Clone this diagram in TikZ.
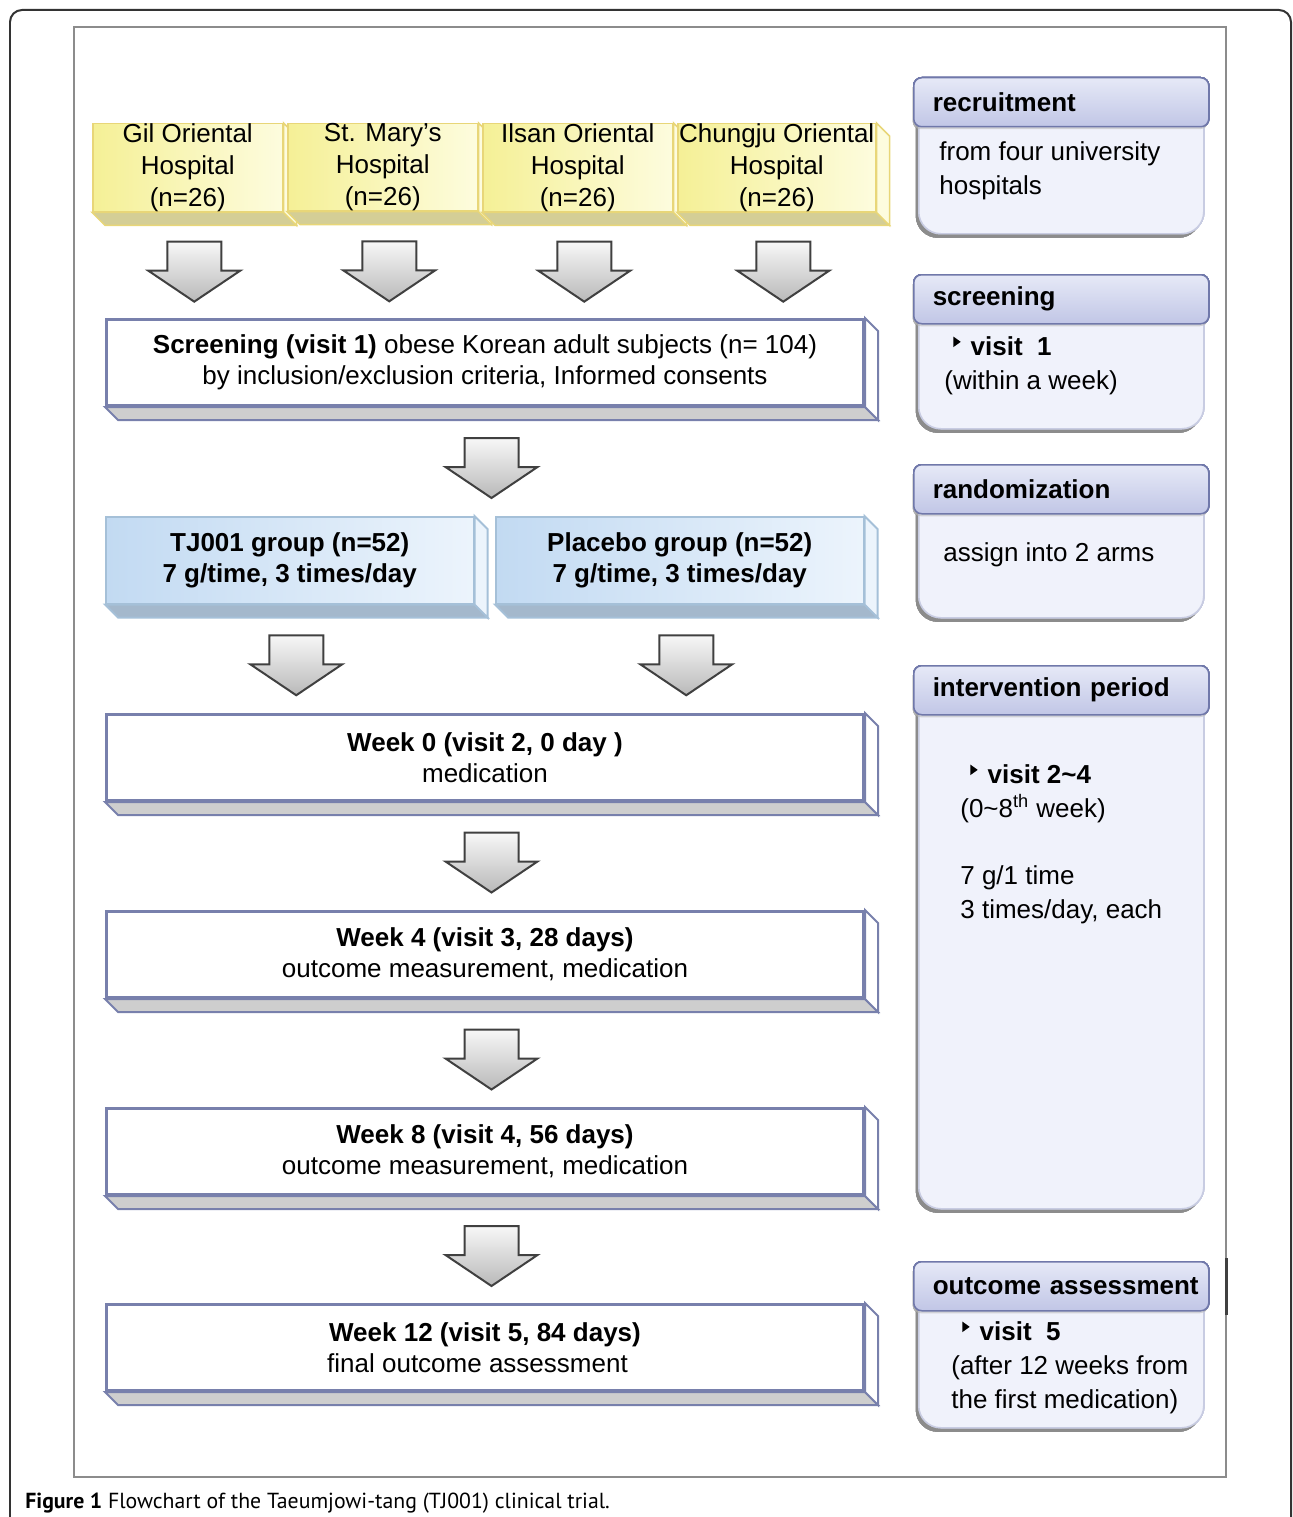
\documentclass[tikz,border=0pt]{standalone}
\usepackage{fontspec}
\setmainfont{Liberation Sans}
\newfontfamily\capfont{PT Sans}
\usepackage{xcolor}
\usepackage{tikz}
\usetikzlibrary{calc,shadows}

\definecolor{boxline}{RGB}{120,128,172}
\definecolor{facegray}{RGB}{206,206,206}
\definecolor{hospline}{RGB}{232,214,120}
\definecolor{hospL}{RGB}{245,240,150}
\definecolor{hospR}{RGB}{253,252,222}
\definecolor{hospface}{RGB}{212,206,150}
\definecolor{grpline}{RGB}{165,192,216}
\definecolor{grpL}{RGB}{194,218,242}
\definecolor{grpR}{RGB}{236,244,252}
\definecolor{grpface}{RGB}{164,184,204}
\definecolor{hdline}{RGB}{112,120,170}
\definecolor{hdtop}{RGB}{230,233,247}
\definecolor{hdbot}{RGB}{193,198,230}
\definecolor{bdline}{RGB}{200,204,226}
\definecolor{bdfill}{RGB}{240,242,251}

\newcommand{\mainsize}{\fontsize{14.8}{17.6}\selectfont}
\newcommand{\hospsize}{\fontsize{14.8}{18.1}\selectfont}
\newcommand{\sidesize}{\fontsize{14.8}{19.3}\selectfont}
\newcommand{\tri}{\raisebox{4.6pt}{\tikz\fill[black] (0pt,0pt)--(0pt,6pt)--(4.2pt,3pt)--cycle;}}
% 块状箭头: 从 #1 下方到 #2 上方
\newcommand{\blockarr}[2]{%
  \coordinate (ma) at ($(#1.south)+(13,13)$);
  \coordinate (m) at ($(ma)!0.5!(#1.south |- #2.north)$);
  \draw[blkarr] (m) ++(-27,-30) -- ++(54,0) -- ++(0,29) -- ++(19,0)
    -- ++(-46,31) -- ++(-46,-31) -- ++(19,0) -- cycle;
}

\begin{document}
\begin{tikzpicture}[x=0.02cm, y=-0.02cm, font=\mainsize,
  box/.style={draw=boxline, line width=0.06cm, fill=white, anchor=north west,
    minimum height=86*0.02cm, align=center, inner sep=0pt},
  hosp/.style={draw=hospline, line width=0.03cm, left color=hospL, right color=hospR,
    anchor=north west, minimum height=87*0.02cm, align=center, inner sep=0pt,
    font=\hospsize},
  grp/.style={draw=grpline, line width=0.03cm, left color=grpL, right color=grpR,
    anchor=north west, minimum height=87*0.02cm, align=center, inner sep=0pt,
    font=\mainsize\bfseries},
  blkarr/.style={draw=black!75, line width=0.04cm, top color=gray!6, bottom color=gray!55},
  phead/.style={draw=hdline, line width=0.03cm, top color=hdtop, bottom color=hdbot,
    rounded corners=0.16cm, anchor=north west, minimum width=295*0.02cm,
    minimum height=49*0.02cm, text width=287*0.02cm, inner xsep=4*0.02cm,
    align=left, font=\mainsize\bfseries,
    drop shadow={shadow xshift=-0.02cm, shadow yshift=-0.05cm, fill=black!30}},
  pbody/.style={draw=bdline, line width=0.03cm, fill=bdfill, rounded corners=0.44cm,
    anchor=north west, minimum width=285*0.02cm,
    drop shadow={shadow xshift=-0.06cm, shadow yshift=-0.08cm, fill=black!45}},
  ptxt/.style={anchor=north west, align=left, inner sep=0pt, font=\sidesize}]
\useasboundingbox (0,0) rectangle (1293,1517);
% 外框
\draw[black!80, line width=0.04cm, rounded corners=0.24cm]
  (10,1530) -- (10,10) -- (1291,10) -- (1291,1530);
\draw[black!45, line width=0.04cm] (74,27) rectangle (1226,1477);
\draw[black!75, line width=0.06cm] (1226,1258) -- (1226,1315);
% 医院
\foreach \nm/\x/\w/\txt in {gil/92/190/{Gil Oriental\\Hospital\\(n=26)},
    mary/287/190/{St. Mary’s\\Hospital\\(n=26)},
    ilsan/482/190/{Ilsan Oriental\\Hospital\\(n=26)},
    chungju/677/198/{Chungju Oriental\\Hospital\\(n=26)}} {
  \node[hosp, minimum width=\w*0.02cm] (\nm) at (\x,123) {\txt};
  \draw[hospline, line width=0.03cm, fill=hospface] (\nm.south west) -- (\nm.south east)
    -- ++(13,13) -- ($(\nm.south west)+(13,13)$) -- cycle;
  \draw[hospline, line width=0.03cm, fill=hospR] (\nm.north east) -- ++(13,13)
    -- ($(\nm.south east)+(13,13)$) -- (\nm.south east) -- cycle;
}
% 筛选
\node[box, minimum width=757*0.02cm] (screen) at (105,318)
  {\textbf{Screening (visit 1)} obese Korean adult subjects (n= 104)\\
   by inclusion/exclusion criteria, Informed consents};
% 分组
\node[grp, minimum width=368*0.02cm] (tj) at (105,516)
  {TJ001 group (n=52)\\7 g/time, 3 times/day};
\node[grp, minimum width=368*0.02cm] (plac) at (495,516)
  {Placebo group (n=52)\\7 g/time, 3 times/day};
% 各周
\node[box, minimum width=757*0.02cm] (wk0) at (105,713)
  {\textbf{Week 0 (visit 2, 0 day )}\\medication};
\node[box, minimum width=757*0.02cm] (wk4) at (105,910)
  {\textbf{Week 4 (visit 3, 28 days)}\\outcome measurement, medication};
\node[box, minimum width=757*0.02cm] (wk8) at (105,1107)
  {\textbf{Week 8 (visit 4, 56 days)}\\outcome measurement, medication};
\node[box, minimum width=757*0.02cm] (wk12) at (105,1303)
  {\textbf{Week 12 (visit 5, 84 days)}\\final outcome assessment\hspace*{0.3cm}};
% 立体边
\foreach \n/\lc/\fc/\rc in {screen/boxline/facegray/white, wk0/boxline/facegray/white,
    wk4/boxline/facegray/white, wk8/boxline/facegray/white, wk12/boxline/facegray/white,
    tj/grpline/grpface/grpR, plac/grpline/grpface/grpR} {
  \draw[\lc, line width=0.04cm, fill=\fc] (\n.south west) -- (\n.south east)
    -- ++(13,13) -- ($(\n.south west)+(13,13)$) -- cycle;
  \draw[\lc, line width=0.04cm, fill=\rc] (\n.north east) -- ++(13,13)
    -- ($(\n.south east)+(13,13)$) -- (\n.south east) -- cycle;
}
% 箭头
\foreach \a/\b in {gil/screen, mary/screen, ilsan/screen, chungju/screen, screen/tj,
    tj/wk0, plac/wk0, wk0/wk4, wk4/wk8, wk8/wk12}
  \blockarr{\a}{\b}
% 右侧说明
\foreach \nm/\y/\yb/\title in {rec/77/233/recruitment, scr/274/428/screening,
    rnd/464/617/randomization, int/665/1208/intervention period,
    out/1261/1427/outcome assessment} {
  \node[pbody, minimum height=(\yb-\y-5)*0.02cm] (bd\nm) at (918,\y+5) {};
  \node[phead] (hd\nm) at (913,\y) {\hspace*{0.3cm}\mbox{\title}};
}
\node[ptxt] (trec) at (939,141) {from four university\\hospitals};
\node[ptxt] (tscr) at (944,336)
  {\hspace*{0.18cm}\tri\hspace{0.2cm}\textbf{visit\ \ 1}\\(within a week)};
\node[ptxt] (trnd) at (943,542) {assign into 2 arms};
\node[ptxt] (tint) at (960,764)
  {\hspace*{0.2cm}\tri\hspace{0.2cm}\textbf{visit 2\textasciitilde 4}\\
   (0\textasciitilde 8\textsuperscript{th} week)\\[19.3pt]
   7 g/1 time\\3 times/day, each};
\node[ptxt] (tout) at (951,1321)
  {\hspace*{0.22cm}\tri\hspace{0.2cm}\textbf{visit\ \ 5}\\
   (after 12 weeks from\\the first medication)};
% 图题
\node[anchor=west, inner sep=0pt, font=\capfont\fontsize{12.4}{14}\selectfont] (cap) at (25,1503)
  {\textbf{Figure 1} Flowchart of the Taeumjowi-tang (TJ001) clinical trial.};
\end{tikzpicture}
\end{document}
